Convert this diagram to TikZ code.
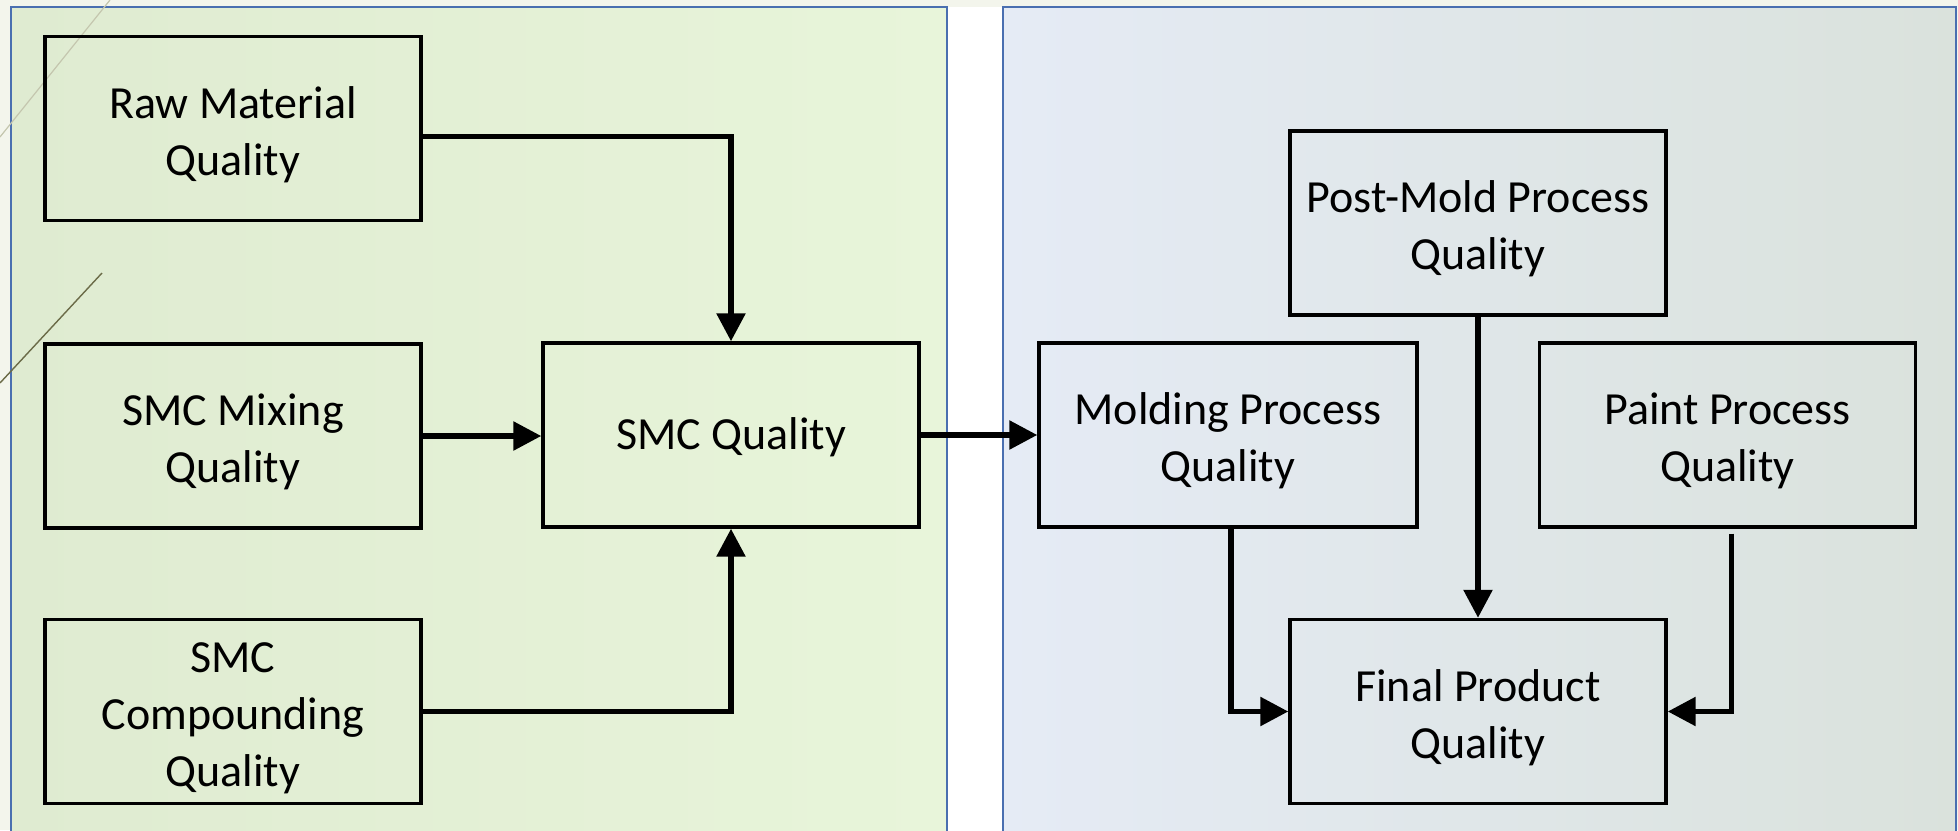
\documentclass[tikz,border=0pt]{standalone}
\usepackage{fontspec}
\setmainfont{Carlito}
\usetikzlibrary{arrows.meta}
\definecolor{pagebg}{HTML}{F3F5EC}
\definecolor{greenA}{HTML}{DFEBD1}
\definecolor{greenB}{HTML}{E8F5DA}
\definecolor{blueA}{HTML}{E5EBF5}
\definecolor{blueB}{HTML}{DAE2DC}
\definecolor{frameblue}{HTML}{4A6FB0}
\definecolor{decoLight}{HTML}{C4C6AE}
\definecolor{decoDark}{HTML}{6B6B48}
% extra head room on a first text line, so the lines sit a little low in their box
\newcommand{\toplead}{\rule{0pt}{22pt}}
\begin{document}
\begin{tikzpicture}[x=0.5pt,y=-0.5pt,
  qbox/.style={draw=black, line width=1.7pt, minimum width=188pt, minimum height=92pt,
    align=center, inner sep=0pt, text=black, font=\fontsize{23}{28.5}\selectfont},
  flow/.style={draw=black, line width=2.8pt, -{Triangle[length=14pt,width=14pt]}},
  panel/.style={draw=frameblue, line width=0.8pt}]
\useasboundingbox (0,0) rectangle (1958,830);
\clip (0,0) rectangle (1958,830);

% page background and the gap between the two panels
\fill[pagebg] (0,0) rectangle (1958,830);
\fill[white] (947,7) rectangle (1003,830);

% the two panels
\path[panel, left color=greenA, right color=greenB] (11,7) rectangle (947,850);
\path[panel, left color=blueA, right color=blueB] (1003,7) rectangle (1956,850);

% thin decorative diagonals on the left edge
\draw[decoLight, line width=0.6pt] (110,0) -- (0,137);
\draw[decoDark, line width=0.7pt] (102,273) -- (0,383);

% quality boxes
\node[qbox] (raw)   at (233,128.5)  {\toplead Raw Material\\Quality};
\node[qbox] (mix)   at (233,436)    {\toplead SMC Mixing\\Quality};
\node[qbox] (comp)  at (233,711.5)  {\toplead SMC\\Compounding\\Quality};
\node[qbox] (smc)   at (731,435)    {\rule{0pt}{18pt}SMC Quality};
\node[qbox, minimum width=189pt] (mold) at (1228,435) {\toplead Molding Process\\Quality};
\node[qbox] (post)  at (1478,223)   {\toplead Post-Mold Process\\Quality};
\node[qbox] (paint) at (1727.5,435) {\toplead Paint Process\\Quality};
\node[qbox] (final) at (1478,711.5) {\toplead Final Product\\Quality};

% connectors
\draw[flow] ([yshift=-4pt]raw.east) -| (smc.north);
\draw[flow] (mix.east) -- (mix.east -| smc.west);
\draw[flow] (comp.east) -| (smc.south);
\draw[flow] (smc.east) -- (smc.east -| mold.west);
\draw[flow] (post.south) -- (final.north);
\draw[flow] ([xshift=1.5pt]mold.south) |- (final.west);
\draw[flow] ([xshift=2pt,yshift=-2.5pt]paint.south) |- (final.east);
\end{tikzpicture}
\end{document}
